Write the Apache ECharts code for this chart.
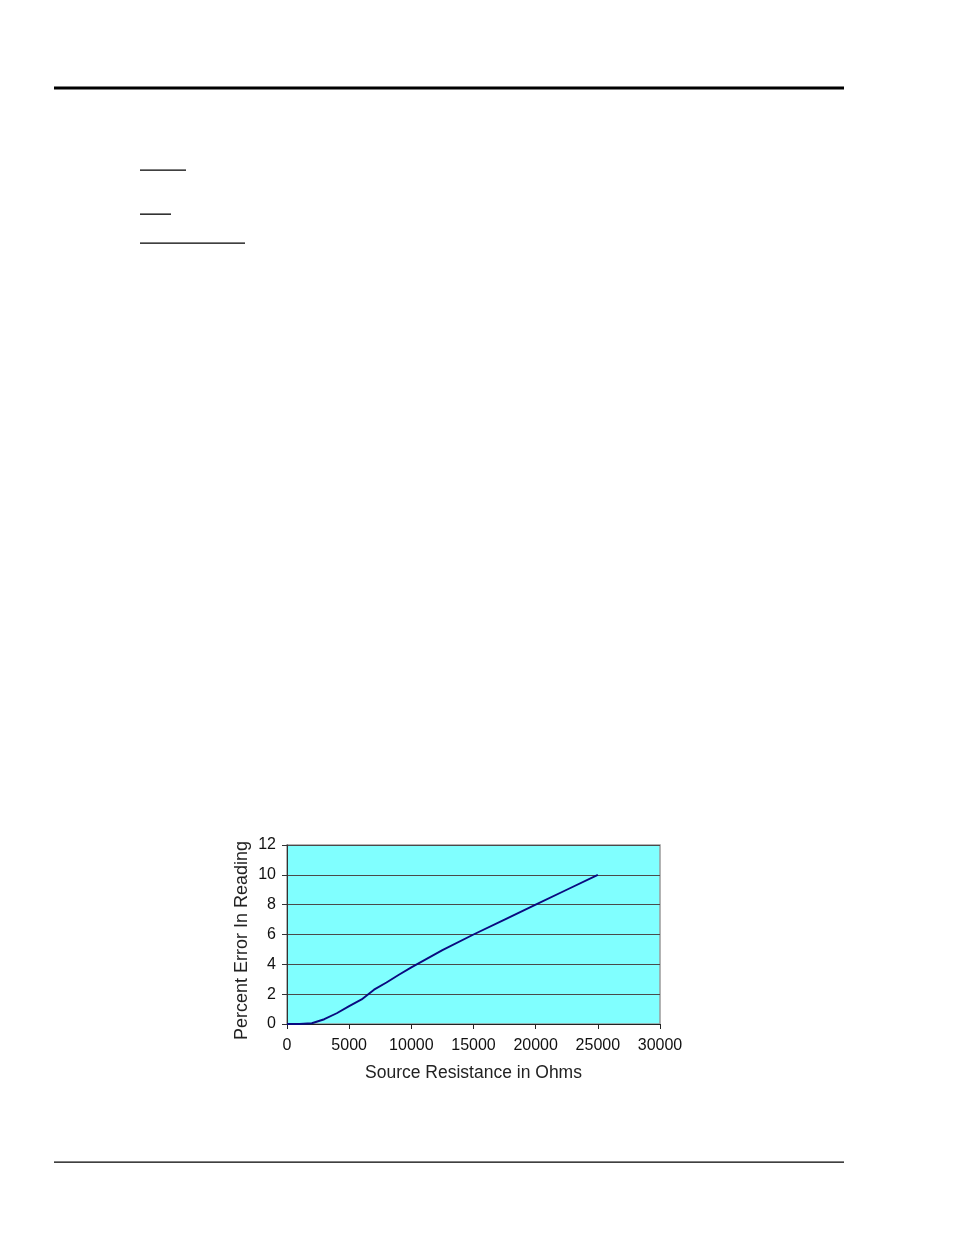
<!DOCTYPE html>
<html>
<head>
<meta charset="utf-8">
<script src="https://cdn.jsdelivr.net/npm/echarts@6/dist/echarts.min.js"></script>
<style>
html,body{margin:0;padding:0;background:#fff;}
#c{width:954px;height:1235px;}
</style>
</head>
<body>
<div id="c"></div>
<script>
// Data
var resistanceOhms = [0, 1000, 2000, 3000, 4000, 5000, 6000, 7000, 8000, 9000, 10000, 12500, 15000, 17500, 20000, 22500, 25000];
var percentError   = [0, 0, 0.05, 0.32, 0.72, 1.2, 1.65, 2.3, 2.78, 3.3, 3.8, 4.95, 6.0, 7.0, 8.0, 9.0, 10.0];
var xTicks = [0, 5000, 10000, 15000, 20000, 25000, 30000];
var yTicks = [0, 2, 4, 6, 8, 10, 12];
var xAxisTitle = 'Source Resistance in Ohms';
var yAxisTitle = 'Percent Error In Reading';

var points = resistanceOhms.map(function (x, i) { return [x, percentError[i]]; });
var font = 'Liberation Sans, Arial, sans-serif';

var chart = echarts.init(document.getElementById('c'), null, {renderer: 'canvas'});
chart.setOption({
  animation: false,
  backgroundColor: '#ffffff',
  grid: {
    left: 287, right: 294, top: 845, bottom: 211,
    show: true, backgroundColor: '#80ffff', borderColor: '#9a9a9a', borderWidth: 1.5
  },
  xAxis: {
    type: 'value',
    min: xTicks[0], max: xTicks[xTicks.length - 1], interval: 5000,
    name: xAxisTitle, nameLocation: 'middle', nameGap: 40,
    nameTextStyle: {fontFamily: font, fontSize: 17.5, color: '#222'},
    axisLine: {show: true, onZero: false, lineStyle: {color: '#222', width: 1}},
    axisTick: {show: true, length: 5, lineStyle: {color: '#222'}},
    axisLabel: {fontFamily: font, fontSize: 16, color: '#111', margin: 14,
      formatter: function (v) { return String(v); }},
    splitLine: {show: false}
  },
  yAxis: {
    type: 'value',
    min: yTicks[0], max: yTicks[yTicks.length - 1], interval: 2,
    name: yAxisTitle, nameLocation: 'middle', nameGap: 36,
    nameTextStyle: {fontFamily: font, fontSize: 18, color: '#222', padding: [0, 12, 0, 0]},
    axisLine: {show: true, lineStyle: {color: '#333', width: 1}},
    axisTick: {show: true, length: 5, lineStyle: {color: '#333'}},
    axisLabel: {fontFamily: font, fontSize: 16, color: '#111', margin: 11},
    splitLine: {show: true, lineStyle: {color: '#4a4a4a', width: 1.2}}
  },
  series: [{
    type: 'line',
    data: points,
    showSymbol: false,
    smooth: false,
    lineStyle: {color: '#0a0a80', width: 1.9},
    z: 5
  }],
  graphic: [
    {type: 'rect', shape: {x: 54, y: 86.5, width: 790, height: 3}, style: {fill: '#000'}},
    {type: 'rect', shape: {x: 140, y: 169.5, width: 46, height: 1.3}, style: {fill: '#000'}},
    {type: 'rect', shape: {x: 140, y: 213.5, width: 31, height: 1.3}, style: {fill: '#000'}},
    {type: 'rect', shape: {x: 140, y: 242.5, width: 105, height: 1.3}, style: {fill: '#000'}},
    {type: 'rect', shape: {x: 54, y: 1161.5, width: 790, height: 1.3}, style: {fill: '#000'}}
  ]
});
</script>
</body>
</html>
